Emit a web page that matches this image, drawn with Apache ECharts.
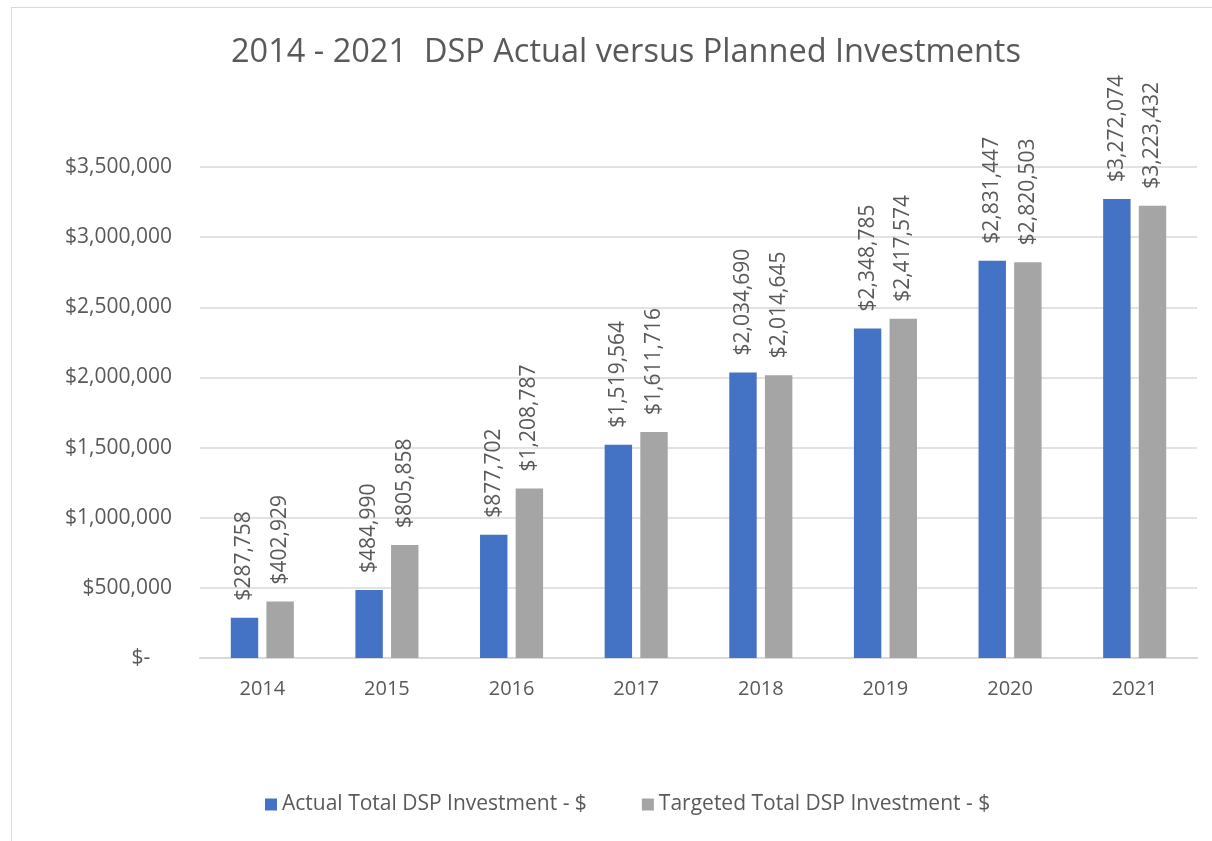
<!DOCTYPE html>
<html>
<head>
<meta charset="utf-8">
<script src="https://cdn.jsdelivr.net/npm/echarts@6/dist/echarts.min.js"></script>
<style>
html,body{margin:0;padding:0;background:#fff;}
#frame{position:absolute;left:11px;top:7px;width:1220px;height:850px;border-left:1.5px solid #d9d9d9;border-top:1.5px solid #d9d9d9;}
#chart{position:absolute;left:0;top:0;width:1212px;height:841px;}
</style>
</head>
<body>
<div id="frame"></div>
<div id="chart"></div>
<script>
const years = ['2014','2015','2016','2017','2018','2019','2020','2021'];
const actual = [287758, 484990, 877702, 1519564, 2034690, 2348785, 2831447, 3272074];
const targeted = [402929, 805858, 1208787, 1611716, 2014645, 2417574, 2820503, 3223432];
const seriesNames = ['Actual Total DSP Investment - $', 'Targeted Total DSP Investment - $'];
const titleText = '2014 - 2021  DSP Actual versus Planned Investments';

const FONT = 'Open Sans';
const TXT = '#595959';
function money(v){ return '$' + v.toLocaleString('en-US'); }

const chart = echarts.init(document.getElementById('chart'));
const lbl = {
  show: true, position: 'top', rotate: 90, align: 'left', verticalAlign: 'middle',
  distance: 17, color: TXT, fontFamily: FONT, fontSize: 21,
  formatter: p => money(p.value)
};
chart.setOption({
  backgroundColor: 'transparent',
  animation: false,
  title: {
    text: titleText, left: 226, top: 31,
    textStyle: { color: TXT, fontFamily: FONT, fontSize: 32.5, fontWeight: 'normal' }
  },
  legend: {
    bottom: 21, left: 260, itemWidth: 12, itemHeight: 12, itemGap: 55,
    icon: 'rect',
    textStyle: { color: TXT, fontFamily: FONT, fontSize: 21 },
    data: seriesNames
  },
  grid: { left: 200, right: 15, top: 167, bottom: 183 },
  xAxis: {
    type: 'category', data: years,
    axisLine: { lineStyle: { color: '#d9d9d9', width: 2 } },
    axisTick: { show: false },
    axisLabel: { color: TXT, fontFamily: FONT, fontSize: 20, margin: 21 }
  },
  yAxis: {
    type: 'value', min: 0, max: 3500000, interval: 500000,
    axisLine: { show: false }, axisTick: { show: false },
    splitLine: { lineStyle: { color: '#d9d9d9', width: 1.5 } },
    axisLabel: {
      color: TXT, fontFamily: FONT, fontSize: 21, margin: 28,
      formatter: v => v === 0 ? '$-    ' : money(v)
    }
  },
  series: [
    { name: seriesNames[0], type: 'bar', data: actual, barWidth: '22%', barGap: '30%',
      itemStyle: { color: '#4472c4' }, label: lbl },
    { name: seriesNames[1], type: 'bar', data: targeted, barWidth: '22%',
      itemStyle: { color: '#a5a5a5' }, label: lbl }
  ]
});
</script>
</body>
</html>
